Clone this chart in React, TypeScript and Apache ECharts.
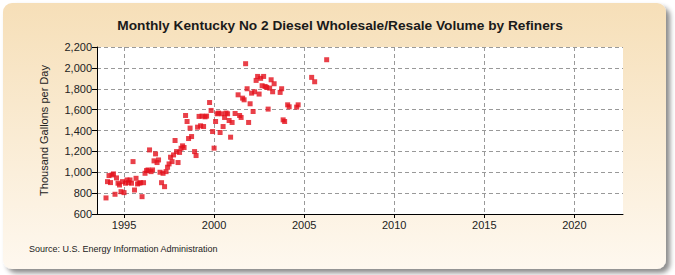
import React, { useEffect, useRef } from "react";
import * as echarts from "echarts";

// Monthly values (thousand gallons per day), Jan..Dec; null = not reported
const years = [1994, 1995, 1996, 1997, 1998, 1999, 2000, 2001, 2002, 2003, 2004, 2005, 2006];
const v1994 = [754, 910, 968, 901, 974, 984, 789, 946, 895, 878, 814, 910];
const v1995 = [805, 895, 926, 900, 926, 895, 1102, 830, 942, 888, 895, 900];
const v1996 = [766, 900, 990, 1016, 1022, 1214, 1006, 1022, 1109, 1176, 1093, 1118];
const v1997 = [1000, 900, 990, 862, 1006, 1048, 1080, 1144, 1102, 1166, 1304, 1198];
const v1998 = [1093, 1190, 1230, 1253, 1237, 1544, 1486, 1323, 1423, 1342, null, 1198];
const v1999 = [1160, 1432, 1535, 1445, 1538, 1438, 1531, 1538, null, 1668, 1592, 1390];
const v2000 = [1231, 1486, 1560, 1567, 1381, 1560, 1438, 1525, 1567, 1560, 1496, 1336];
const v2001 = [1477, null, 1563, null, 1742, 1544, 1525, 1710, 1694, 2040, 1800, 1477];
const v2002 = [1656, 1758, 1582, 1771, 1880, 1918, 1749, 1900, 1829, 1918, 1822, 1813];
const v2003 = [1605, 1806, 1886, 1771, 1848, null, null, null, 1765, 1800, 1502, 1486];
const v2004 = [null, 1646, 1627, null, null, null, null, 1624, 1646, null, null, null];
const v2005 = [null, null, null, null, null, 1909, null, 1867, null, null, null, null];
const v2006 = [null, null, null, 2078];
const yearValues = [v1994, v1995, v1996, v1997, v1998, v1999, v2000, v2001, v2002, v2003, v2004, v2005, v2006];

const xTicks = [1995, 2000, 2005, 2010, 2015, 2020];
const xMin = 1993.5;
const xMax = 2022.7;
const yMin = 600;
const yMax = 2200;
const yStep = 200;

const title = "Monthly Kentucky No 2 Diesel Wholesale/Resale Volume by Refiners";
const yName = "Thousand Gallons per Day";
const source = "Source: U.S. Energy Information Administration";

export default function App() {
  const ref = useRef<HTMLDivElement>(null);
  useEffect(() => {
    document.body.style.margin = "0";
    const chart = echarts.init(ref.current!, null, { renderer: "svg" });
    const data: [number, number][] = [];
    years.forEach((y, i) => {
      yearValues[i].forEach((v, m) => {
        if (v !== null && v !== undefined) data.push([y + m / 12, v as number]);
      });
    });
    chart.setOption({
      animation: false,
      backgroundColor: "#ffffff",
      title: {
        text: title,
        left: 335,
        top: 13,
        textAlign: "center",
        textStyle: {
          fontFamily: "'Liberation Sans', Arial, sans-serif",
          fontWeight: "bold",
          fontSize: 13.7,
          color: "#1a1a1a",
        },
      },
      graphic: [
        {
          type: "rect",
          z: -10,
          shape: { x: 3, y: 3, width: 663, height: 266, r: 9 },
          style: {
            fill: new echarts.graphic.LinearGradient(0, 0, 0, 1, [
              { offset: 0, color: "#f6dfb8" },
              { offset: 1, color: "#fef8ef" },
            ]),
            shadowColor: "rgba(0,0,0,0.45)",
            shadowBlur: 5,
            shadowOffsetX: 4,
            shadowOffsetY: 4,
          },
        },
        {
          type: "text",
          x: 29,
          y: 249,
          style: {
            text: source,
            fontFamily: "'Liberation Sans', Arial, sans-serif",
            fontSize: 9,
            fill: "#222",
            textVerticalAlign: "middle",
          },
        },
      ],
      grid: {
        left: 97,
        right: 52,
        top: 47,
        bottom: 61,
        show: true,
        backgroundColor: "#ffffff",
        borderWidth: 0,
      },
      xAxis: {
        type: "value",
        min: xMin,
        max: xMax,
        axisLine: { show: true, lineStyle: { color: "#000", width: 1 } },
        axisTick: { show: true, length: 4, customValues: xTicks, lineStyle: { color: "#000" } },
        axisLabel: {
          customValues: xTicks,
          color: "#222",
          fontSize: 11,
          fontFamily: "'Liberation Sans', Arial, sans-serif",
          margin: 5,
          formatter: (v: number) => String(Math.round(v)),
        },
        splitLine: { show: true, lineStyle: { color: "#999999", type: [4, 3], width: 1 } },
      },
      yAxis: {
        type: "value",
        min: yMin,
        max: yMax,
        interval: yStep,
        name: yName,
        nameLocation: "middle",
        nameGap: 48,
        nameTextStyle: {
          fontFamily: "'Liberation Sans', Arial, sans-serif",
          fontSize: 11,
          color: "#222",
        },
        axisLine: { show: true, lineStyle: { color: "#000", width: 1 } },
        axisTick: { show: true, length: 5, lineStyle: { color: "#000" } },
        axisLabel: {
          color: "#222",
          fontSize: 11,
          fontFamily: "'Liberation Sans', Arial, sans-serif",
          margin: 5,
          formatter: (v: number) => v.toLocaleString("en-US"),
        },
        splitLine: { show: true, lineStyle: { color: "#999999", type: [4, 3], width: 1 } },
      },
      series: [
        {
          type: "scatter",
          data,
          symbol: "rect",
          symbolSize: 5,
          itemStyle: { color: "#e3101b" },
        },
      ],
    });
    return () => chart.dispose();
  }, []);
  return <div ref={ref} style={{ width: 675, height: 275 }} />;
}
